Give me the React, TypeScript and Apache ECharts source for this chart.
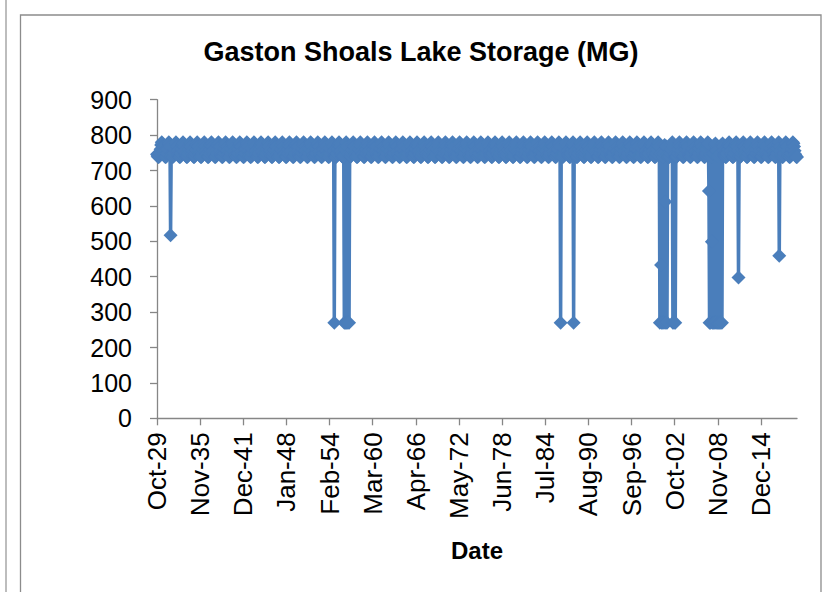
import React, { useEffect, useRef } from 'react';
import * as echarts from 'echarts';

// Monthly series, starting Oct 1929
const START_YEAR = 1929;
const START_MONTH = 9; // 0-based: October
const MONTH_COUNT = 1084;
const MONTH_NAMES = ['Jan', 'Feb', 'Mar', 'Apr', 'May', 'Jun', 'Jul', 'Aug', 'Sep', 'Oct', 'Nov', 'Dec'];

// Typical storage (MG) by calendar month, read from the envelope of the dense band (Jan..Dec)
const typicalByMonth = [738, 740, 748, 760, 772, 780, 776, 768, 756, 746, 741, 738];

// Months where storage dropped well below the normal band
const dips: [string, number][] = [
  ['Sep-31', 517],
  ['Oct-54', 270],
  ['Mar-56', 270], ['May-56', 270], ['Jul-56', 270], ['Sep-56', 270], ['Nov-56', 270],
  ['Sep-86', 270],
  ['Jul-88', 270],
  ['Sep-00', 270], ['Nov-00', 433], ['Dec-00', 270], ['Feb-01', 270], ['Apr-01', 270],
  ['Jun-01', 612], ['Jul-01', 270], ['Sep-01', 270],
  ['Jul-02', 270], ['Sep-02', 270], ['Nov-02', 270],
  ['Aug-07', 642], ['Sep-07', 270], ['Nov-07', 270], ['Jan-08', 499], ['Feb-08', 270],
  ['Apr-08', 270], ['Jun-08', 270], ['Aug-08', 270], ['Oct-08', 270], ['Dec-08', 270],
  ['Feb-09', 270], ['Apr-09', 270], ['Jun-09', 270],
  ['Oct-11', 398],
  ['Jul-17', 459],
];

const yTicks = { min: 0, max: 900, interval: 100 };
const LABEL_EVERY = 73; // one tick label every 73 months

const dipMap = new Map<string, number>(dips);
const categories: string[] = [];
const values: number[] = [];
for (let i = 0; i < MONTH_COUNT; i++) {
  const m = (START_MONTH + i) % 12;
  const y = START_YEAR + Math.floor((START_MONTH + i) / 12);
  const label = `${MONTH_NAMES[m]}-${String(y % 100).padStart(2, '0')}`;
  categories.push(label);
  values.push(dipMap.has(label) ? (dipMap.get(label) as number) : typicalByMonth[m]);
}

const FONT = '"Liberation Sans", Arial, Helvetica, sans-serif';
const AXIS_GREY = '#868686';
const BLUE = '#4A7EBB';

export default function App() {
  const ref = useRef<HTMLDivElement>(null);
  useEffect(() => {
    if (!ref.current) return;
    const chart = echarts.init(ref.current, null, { renderer: 'svg' });
    chart.setOption({
      animation: false,
      backgroundColor: '#ffffff',
      grid: { left: 157, right: 34, top: 99.7, bottom: 173.7, containLabel: false, outerBoundsMode: 'none' },
      graphic: [
        { type: 'line', shape: { x1: 6, y1: 0, x2: 6, y2: 592 }, style: { stroke: '#9a9a9a', lineWidth: 1.3 }, silent: true },
        { type: 'rect', shape: { x: 20.5, y: 15, width: 800.5, height: 600 }, style: { fill: 'none', stroke: '#8c8c8c', lineWidth: 1.3 }, silent: true },
        {
          type: 'text', x: 421, y: 52,
          style: { text: 'Gaston Shoals Lake Storage (MG)', fontSize: 27, fontWeight: 'bold', fontFamily: FONT, fill: '#000', align: 'center', verticalAlign: 'middle' },
          silent: true,
        },
      ],
      xAxis: {
        type: 'category',
        data: categories,
        boundaryGap: false,
        axisLine: { lineStyle: { color: AXIS_GREY, width: 1.3 } },
        axisTick: { interval: LABEL_EVERY - 1, length: 7, lineStyle: { color: AXIS_GREY, width: 1.3 } },
        axisLabel: { interval: LABEL_EVERY - 1, rotate: 90, fontSize: 26, fontFamily: FONT, color: '#000', margin: 14 },
        splitLine: { show: false },
        name: 'Date',
        nameLocation: 'middle',
        nameGap: 120,
        nameTextStyle: { fontSize: 24, fontWeight: 'bold', fontFamily: FONT, color: '#000' },
      },
      yAxis: {
        type: 'value',
        min: yTicks.min,
        max: yTicks.max,
        interval: yTicks.interval,
        axisLine: { show: true, lineStyle: { color: AXIS_GREY, width: 1.3 } },
        axisTick: { show: true, length: 7, lineStyle: { color: AXIS_GREY, width: 1.3 } },
        splitLine: { show: false },
        axisLabel: { fontSize: 25, fontFamily: FONT, color: '#000', margin: 25 },
      },
      series: [
        {
          type: 'line',
          data: values,
          symbol: 'diamond',
          symbolSize: 14,
          showAllSymbol: true,
          clip: false,
          silent: true,
          lineStyle: { color: BLUE, width: 3.5 },
          itemStyle: { color: BLUE },
          emphasis: { disabled: true },
        },
      ],
    });
    return () => chart.dispose();
  }, []);
  return <div ref={ref} style={{ position: 'absolute', left: 0, top: 0, width: 831, height: 592 }} />;
}
